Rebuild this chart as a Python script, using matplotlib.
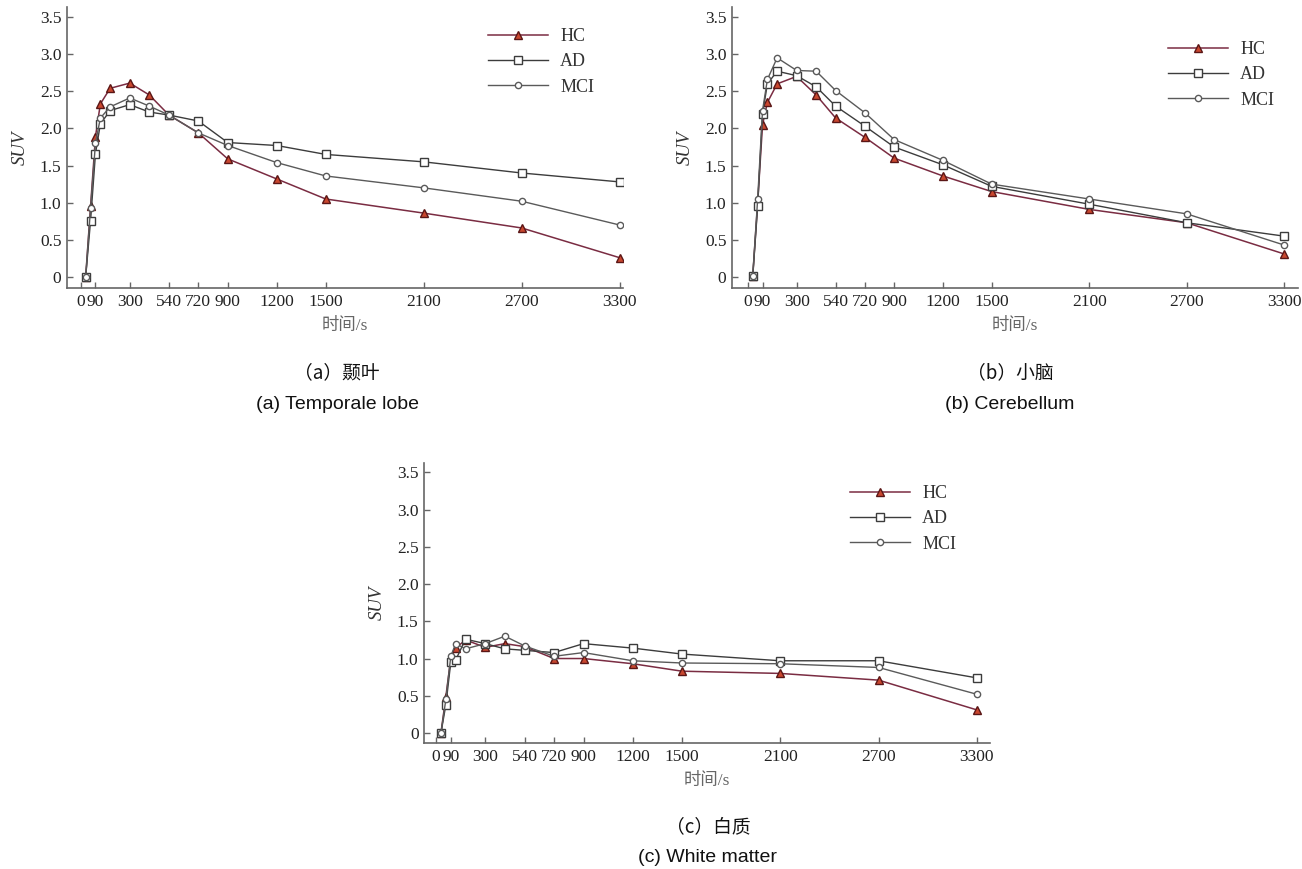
import matplotlib.pyplot as plt

# frame mid-times [s]
times = [30, 60, 90, 120, 180, 300, 420, 540, 720, 900, 1200, 1500, 2100, 2700, 3300]
xticks = [0, 90, 300, 540, 720, 900, 1200, 1500, 2100, 2700, 3300]
yticks = [0, 0.5, 1.0, 1.5, 2.0, 2.5, 3.0, 3.5]
ytick_labels = ["0", "0.5", "1.0", "1.5", "2.0", "2.5", "3.0", "3.5"]
groups = ["HC", "AD", "MCI"]

# (a) temporal lobe
temporal_hc = [0, 0.95, 1.89, 2.33, 2.54, 2.61, 2.45, 2.18, 1.94, 1.59, 1.32, 1.05, 0.86, 0.66, 0.26]
temporal_ad = [0, 0.76, 1.66, 2.06, 2.24, 2.32, 2.22, 2.18, 2.10, 1.81, 1.77, 1.65, 1.55, 1.40, 1.28]
temporal_mci = [0, 0.93, 1.80, 2.14, 2.29, 2.41, 2.30, 2.18, 1.94, 1.77, 1.54, 1.36, 1.20, 1.02, 0.70]

# (b) cerebellum
cereb_hc = [0.02, 1.00, 2.05, 2.35, 2.60, 2.70, 2.45, 2.14, 1.88, 1.60, 1.36, 1.15, 0.91, 0.73, 0.31]
cereb_ad = [0.02, 0.95, 2.20, 2.60, 2.77, 2.71, 2.56, 2.30, 2.03, 1.75, 1.51, 1.22, 0.98, 0.73, 0.55]
cereb_mci = [0.02, 1.05, 2.24, 2.66, 2.95, 2.78, 2.77, 2.51, 2.21, 1.85, 1.57, 1.25, 1.05, 0.85, 0.43]

# (c) white matter
wm_hc = [0, 0.49, 1.00, 1.14, 1.25, 1.15, 1.20, 1.16, 1.00, 1.00, 0.93, 0.83, 0.80, 0.71, 0.31]
wm_ad = [0, 0.38, 0.95, 0.98, 1.26, 1.20, 1.13, 1.11, 1.08, 1.20, 1.14, 1.06, 0.97, 0.97, 0.74]
wm_mci = [0, 0.45, 1.03, 1.20, 1.13, 1.20, 1.30, 1.17, 1.03, 1.08, 0.97, 0.94, 0.93, 0.88, 0.52]

captions_cn = ["（a）颞叶", "（b）小脑", "（c）白质"]
captions_en = ["(a) Temporale lobe", "(b) Cerebellum", "(c) White matter"]

SERIF = ["Liberation Serif", "Noto Sans CJK SC"]
CJK = ["Noto Sans CJK SC", "Liberation Sans"]
styles = {
    "HC": dict(color="#7a2c42", marker="^", ms=5.5, mfc="#c9472f", mec="#5a1616", lw=1.1),
    "AD": dict(color="#3c3c3c", marker="s", ms=5.5, mfc="white", mec="#3c3c3c", lw=1.0),
    "MCI": dict(color="#5a5a5a", marker="o", ms=4.5, mfc="white", mec="#5a5a5a", lw=1.0),
}

fig = plt.figure(figsize=(13.02, 8.69), dpi=100)


def panel(rect, series, xlim, ylim, legend_xy):
    ax = fig.add_axes(rect)
    for name, vals in zip(groups, series):
        ax.plot(times, vals, label=name, **styles[name])
    ax.set_xlim(*xlim)
    ax.set_ylim(*ylim)
    ax.set_xticks(xticks)
    ax.set_xticklabels([str(t) for t in xticks], family=SERIF, fontsize=12.5, color="#222")
    ax.set_yticks(yticks)
    ax.set_yticklabels(ytick_labels, family=SERIF, fontsize=12.5, color="#222")
    for s in ["top", "right"]:
        ax.spines[s].set_visible(False)
    for s in ["left", "bottom"]:
        ax.spines[s].set_color("#666")
        ax.spines[s].set_linewidth(1.2)
    ax.tick_params(direction="in", length=4, width=1, color="#666", pad=4)
    ax.set_ylabel("SUV", family=SERIF, style="italic", fontsize=13.5, color="#333", labelpad=8)
    ax.set_xlabel("时间/s", family=SERIF, fontsize=12.5, color="#666", labelpad=6)
    leg = ax.legend(loc="upper left", bbox_to_anchor=legend_xy, bbox_transform=fig.transFigure,
                    frameon=False, borderpad=0, borderaxespad=0, handlelength=3.3,
                    handletextpad=0.7, labelspacing=0.46, prop={"family": SERIF, "size": 13})
    for t in leg.get_texts():
        t.set_color("#333")
    return ax


panel([0.0515, 0.6686, 0.4270, 0.3234], [temporal_hc, temporal_ad, temporal_mci],
      (-84, 3321), (-0.148, 3.635), (488 / 1302, 1 - 28 / 869))
panel([0.5622, 0.6686, 0.4347, 0.3234], [cereb_hc, cereb_ad, cereb_mci],
      (-98, 3385), (-0.148, 3.635), (1168 / 1302, 1 - 41 / 869))
panel([0.3257, 0.1450, 0.4347, 0.3222], [wm_hc, wm_ad, wm_mci],
      (-73, 3380), (-0.134, 3.625), (850 / 1302, 1 - 485 / 869))

cap_pos = [(337, 373, 405), (1010, 373, 405), (708, 827, 858)]
for (cx, cy1, cy2), cn, en in zip(cap_pos, captions_cn, captions_en):
    fig.text(cx / 1302, 1 - cy1 / 869, cn, family=CJK, fontsize=13.5, color="#111",
             ha="center", va="center")
    fig.text(cx / 1302, 1 - cy2 / 869, en, family=["Liberation Sans"], fontsize=14, color="#111",
             ha="center", va="center")

fig.savefig("out.png", dpi=100)
